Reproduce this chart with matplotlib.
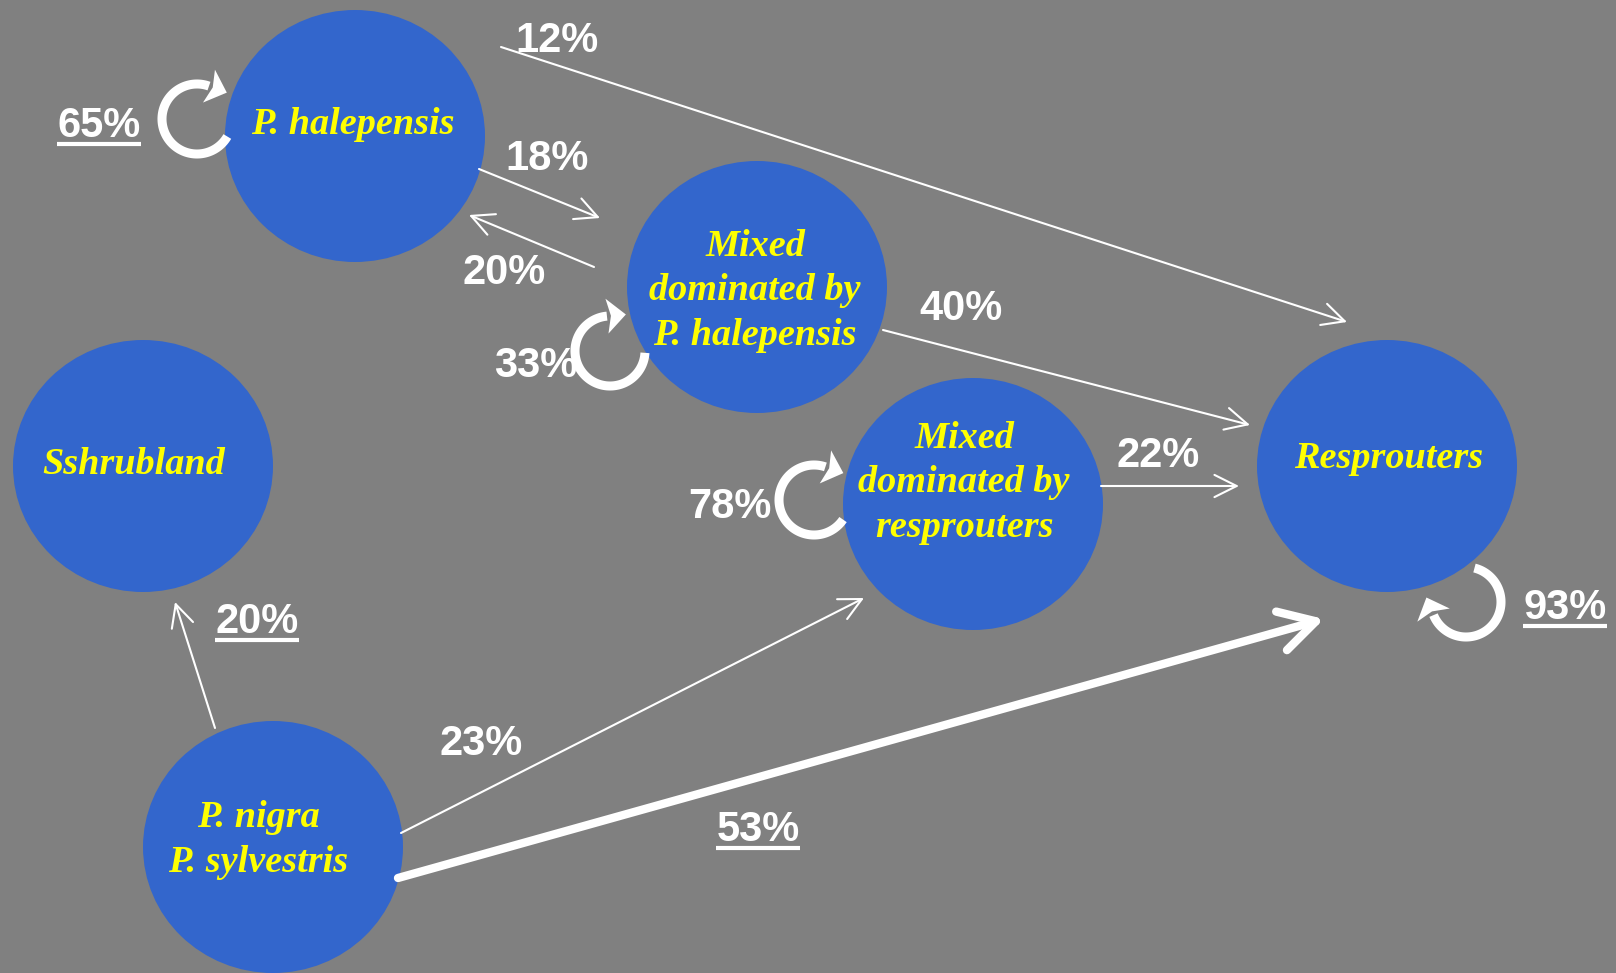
import numpy as np
import matplotlib.pyplot as plt
from matplotlib.patches import Ellipse, FancyArrowPatch, Polygon

# states of the vegetation
states = ["P. halepensis", "Mixed\ndominated by\nP. halepensis", "Sshrubland",
          "Mixed\ndominated by\nresprouters", "Resprouters", "P. nigra\nP. sylvestris"]

# self transitions (persistence), %
self_state = [0, 1, 3, 4]
self_pct = [65, 33, 78, 93]
self_underline = [True, False, False, True]

# transitions between states, %
trans_from = [0, 0, 1, 1, 3, 5, 5, 5]
trans_to = [4, 1, 0, 4, 4, 2, 3, 4]
trans_pct = [12, 18, 20, 40, 22, 20, 23, 53]
trans_underline = [False, False, False, False, False, True, False, True]
trans_thick = [False, False, False, False, False, False, False, True]

# ---- layout (pixels of the slide) ----
W, H = 1616, 973
node_xy = [(355, 136), (757, 287), (143, 466), (973, 504), (1387, 466), (273, 847)]
node_text_xy = [(353, 124), (755, 291), (134, 465), (964, 483), (1389, 458), (258, 840)]
node_w, node_h = 260, 252

trans_ends = [((501, 47), (1347, 322)), ((479, 169), (600, 218)), ((594, 267), (469, 215)),
              ((883, 330), (1250, 425)), ((1101, 486), (1239, 486)), ((215, 728), (175, 602)),
              ((401, 833), (864, 598)), ((398, 878), (1324, 619))]
trans_label_xy = [(557, 41), (547, 159), (504, 273), (961, 309), (1158, 456),
                  (257, 622), (481, 744), (758, 830)]

loop_center = [(197, 119), (610, 351), (814, 500), (1466, 602)]
loop_angles = [(30, 290), (3, 265), (34, 289), (284, 518)]
loop_r = 35
loop_label_xy = [(99, 126), (536, 366), (730, 507), (1565, 608)]

BG = "#808080"
BLUE = "#3366CC"
YELLOW = "#FFFF00"

fig = plt.figure(figsize=(W / 100, H / 100), dpi=100)
fig.patch.set_facecolor(BG)
ax = fig.add_axes([0, 0, 1, 1])
ax.set_facecolor(BG)
ax.set_xlim(0, W)
ax.set_ylim(H, 0)
ax.axis("off")

# nodes
for i, name in enumerate(states):
    ax.add_patch(Ellipse(node_xy[i], node_w, node_h, facecolor=BLUE, edgecolor="none", zorder=2))
    ax.text(node_text_xy[i][0], node_text_xy[i][1], name, ha="center", va="center",
            color=YELLOW, fontsize=27.5, fontfamily="Liberation Serif", fontweight="bold",
            fontstyle="italic", linespacing=1.35, zorder=4)

labels = []

# arrows between states
for k in range(len(trans_pct)):
    (x0, y0), (x1, y1) = trans_ends[k]
    if trans_thick[k]:
        style = "->,head_length=1.6,head_width=0.9"
        lw = 6
    else:
        style = "->,head_length=1.0,head_width=0.5"
        lw = 1.5
    arr = FancyArrowPatch((x0, y0), (x1, y1), arrowstyle=style, mutation_scale=16,
                          color="white", lw=lw, shrinkA=0, shrinkB=0,
                          capstyle="round", joinstyle="round", zorder=3)
    ax.add_patch(arr)
    t = ax.text(trans_label_xy[k][0], trans_label_xy[k][1], f"{trans_pct[k]}%",
                ha="center", va="center", color="white", fontsize=30,
                fontfamily="Liberation Sans", fontweight="bold", zorder=5)
    labels.append((t, trans_underline[k]))

# self loops: thick arc + notched head, drawn clockwise on screen
head_len, head_w, notch = 19, 35, 4
for k in range(len(self_pct)):
    cx, cy = loop_center[k]
    a0, a1 = loop_angles[k]
    th = np.radians(np.linspace(a0, a1, 120))
    ax.plot(cx + loop_r * np.cos(th), cy + loop_r * np.sin(th), color="white",
            lw=6.5, solid_capstyle="butt", zorder=3)
    e = np.radians(a1)
    base = np.array([cx + loop_r * np.cos(e), cy + loop_r * np.sin(e)])
    d = np.array([-np.sin(e), np.cos(e)])   # direction of travel
    n = np.array([np.cos(e), np.sin(e)])    # radial
    head = [base + d * head_len, base + n * head_w / 2, base + d * notch, base - n * head_w / 2]
    ax.add_patch(Polygon(head, closed=True, facecolor="white", edgecolor="none", zorder=3))
    t = ax.text(loop_label_xy[k][0], loop_label_xy[k][1], f"{self_pct[k]}%",
                ha="center", va="center", color="white", fontsize=30,
                fontfamily="Liberation Sans", fontweight="bold", zorder=5)
    labels.append((t, self_underline[k]))

# underline some of the labels
fig.canvas.draw()
inv = ax.transData.inverted()
for t, und in labels:
    if not und:
        continue
    bb = t.get_window_extent()
    (ux0, uy), (ux1, _) = inv.transform([(bb.x0, bb.y0 + 2), (bb.x1, bb.y0 + 2)])
    ax.plot([ux0, ux1], [uy, uy], color="white", lw=3, solid_capstyle="butt", zorder=5)

fig.savefig("out.png", dpi=100, facecolor=BG)
